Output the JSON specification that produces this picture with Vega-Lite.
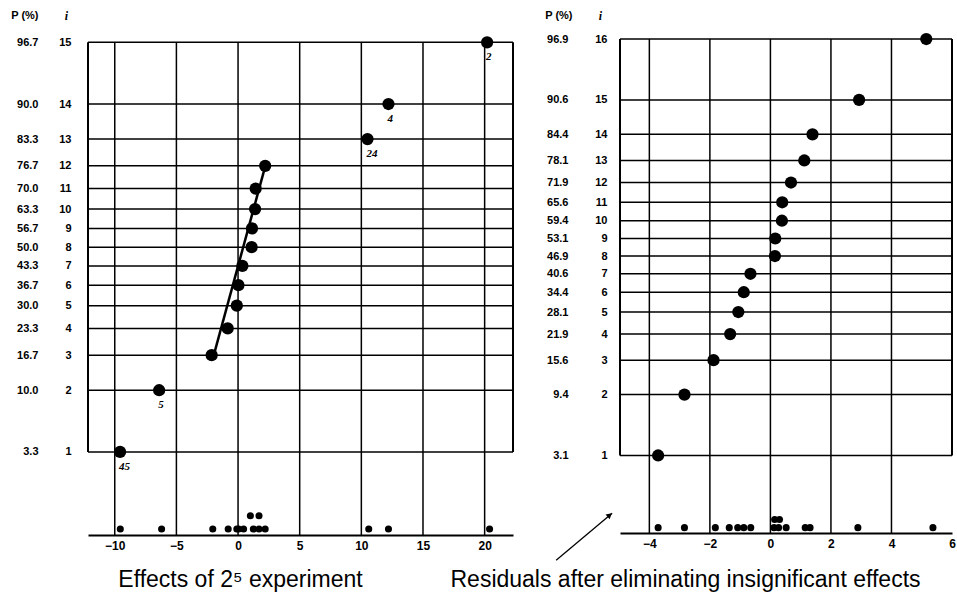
{
  "$schema": "https://vega.github.io/schema/vega-lite/v6.json",
  "background": "white",
  "padding": {"left": 10, "top": 9, "right": 0, "bottom": 0},
  "bounds": "flush",
  "spacing": 107,
  "config": {"view": {"stroke": null}, "font": "Liberation Sans"},
  "datasets": {
    "leftLevels": [
      {"i": 1, "P": 3.3, "z": -1.834}, {"i": 2, "P": 10.0, "z": -1.2816}, {"i": 3, "P": 16.7, "z": -0.9674},
      {"i": 4, "P": 23.3, "z": -0.7279}, {"i": 5, "P": 30.0, "z": -0.5244}, {"i": 6, "P": 36.7, "z": -0.3407},
      {"i": 7, "P": 43.3, "z": -0.1679}, {"i": 8, "P": 50.0, "z": 0}, {"i": 9, "P": 56.7, "z": 0.1679},
      {"i": 10, "P": 63.3, "z": 0.3407}, {"i": 11, "P": 70.0, "z": 0.5244}, {"i": 12, "P": 76.7, "z": 0.7279},
      {"i": 13, "P": 83.3, "z": 0.9674}, {"i": 14, "P": 90.0, "z": 1.2816}, {"i": 15, "P": 96.7, "z": 1.834}
    ],
    "leftTicks": [{"tick": -10}, {"tick": -5}, {"tick": 0}, {"tick": 5}, {"tick": 10}, {"tick": 15}, {"tick": 20}],
    "leftFrame": [{"edge": -12.17}, {"edge": 22.3}],
    "leftPoints": [
      {"i": 1, "z": -1.834, "effect": -9.57, "label": "45"},
      {"i": 2, "z": -1.2816, "effect": -6.4, "label": "5"},
      {"i": 3, "z": -0.9674, "effect": -2.14, "label": ""},
      {"i": 4, "z": -0.7279, "effect": -0.84, "label": ""},
      {"i": 5, "z": -0.5244, "effect": -0.1, "label": ""},
      {"i": 6, "z": -0.3407, "effect": 0.03, "label": ""},
      {"i": 7, "z": -0.1679, "effect": 0.35, "label": ""},
      {"i": 8, "z": 0, "effect": 1.1, "label": ""},
      {"i": 9, "z": 0.1679, "effect": 1.13, "label": ""},
      {"i": 10, "z": 0.3407, "effect": 1.38, "label": ""},
      {"i": 11, "z": 0.5244, "effect": 1.43, "label": ""},
      {"i": 12, "z": 0.7279, "effect": 2.2, "label": ""},
      {"i": 13, "z": 0.9674, "effect": 10.5, "label": "24"},
      {"i": 14, "z": 1.2816, "effect": 12.2, "label": "4"},
      {"i": 15, "z": 1.834, "effect": 20.2, "label": "2"}
    ],
    "leftFit": [{"effect": -2.05, "z": -1.0}, {"effect": 2.22, "z": 0.73}],
    "leftDots": [
      {"effect": -9.55, "y": -2.525}, {"effect": -6.2, "y": -2.525}, {"effect": -2.05, "y": -2.525},
      {"effect": -0.8, "y": -2.525}, {"effect": -0.1, "y": -2.525}, {"effect": 0.05, "y": -2.525},
      {"effect": 0.45, "y": -2.525}, {"effect": 1.24, "y": -2.525}, {"effect": 1.7, "y": -2.525},
      {"effect": 2.2, "y": -2.525}, {"effect": 10.6, "y": -2.525}, {"effect": 12.2, "y": -2.525},
      {"effect": 20.4, "y": -2.525}, {"effect": 1.0, "y": -2.405}, {"effect": 1.7, "y": -2.405}
    ],
    "rightLevels": [
      {"i": 1, "P": 3.1, "z": -1.8627}, {"i": 2, "P": 9.4, "z": -1.318}, {"i": 3, "P": 15.6, "z": -1.0101},
      {"i": 4, "P": 21.9, "z": -0.7764}, {"i": 5, "P": 28.1, "z": -0.5791}, {"i": 6, "P": 34.4, "z": -0.4023},
      {"i": 7, "P": 40.6, "z": -0.2372}, {"i": 8, "P": 46.9, "z": -0.0784}, {"i": 9, "P": 53.1, "z": 0.0784},
      {"i": 10, "P": 59.4, "z": 0.2372}, {"i": 11, "P": 65.6, "z": 0.4023}, {"i": 12, "P": 71.9, "z": 0.5791},
      {"i": 13, "P": 78.1, "z": 0.7764}, {"i": 14, "P": 84.4, "z": 1.0101}, {"i": 15, "P": 90.6, "z": 1.318},
      {"i": 16, "P": 96.9, "z": 1.8627}
    ],
    "rightTicks": [{"tick": -4}, {"tick": -2}, {"tick": 0}, {"tick": 2}, {"tick": 4}],
    "rightFrame": [{"edge": -4.97}, {"edge": 6.0}],
    "rightPoints": [
      {"i": 1, "z": -1.8627, "resid": -3.71}, {"i": 2, "z": -1.318, "resid": -2.84},
      {"i": 3, "z": -1.0101, "resid": -1.88}, {"i": 4, "z": -0.7764, "resid": -1.33},
      {"i": 5, "z": -0.5791, "resid": -1.06}, {"i": 6, "z": -0.4023, "resid": -0.88},
      {"i": 7, "z": -0.2372, "resid": -0.66}, {"i": 8, "z": -0.0784, "resid": 0.15},
      {"i": 9, "z": 0.0784, "resid": 0.16}, {"i": 10, "z": 0.2372, "resid": 0.38},
      {"i": 11, "z": 0.4023, "resid": 0.39}, {"i": 12, "z": 0.5791, "resid": 0.68},
      {"i": 13, "z": 0.7764, "resid": 1.12}, {"i": 14, "z": 1.0101, "resid": 1.39},
      {"i": 15, "z": 1.318, "resid": 2.93}, {"i": 16, "z": 1.8627, "resid": 5.15}
    ],
    "rightDots": [
      {"resid": -3.71, "y": -2.508}, {"resid": -2.84, "y": -2.508}, {"resid": -1.82, "y": -2.508},
      {"resid": -1.36, "y": -2.508}, {"resid": -1.08, "y": -2.508}, {"resid": -0.88, "y": -2.508},
      {"resid": -0.65, "y": -2.508}, {"resid": 0.12, "y": -2.508}, {"resid": 0.27, "y": -2.508},
      {"resid": 0.52, "y": -2.508}, {"resid": 1.15, "y": -2.508}, {"resid": 1.31, "y": -2.508},
      {"resid": 2.89, "y": -2.508}, {"resid": 5.37, "y": -2.508}, {"resid": 0.14, "y": -2.436},
      {"resid": 0.3, "y": -2.436}
    ],
    "arrow": [{"x": -7.08, "y": -2.8, "x2": -5.23, "y2": -2.379}],
    "arrowHead": [{"x": -5.31, "y": -2.396}]
  },
  "hconcat": [
    {
      "width": 425,
      "height": 496,
      "resolve": {"axis": {"x": "independent", "y": "independent"}},
      "layer": [
        {
          "data": {"name": "leftLevels"},
          "mark": {"type": "rule", "color": "black", "strokeWidth": 1.5},
          "encoding": {
            "y": {"field": "z", "type": "quantitative", "scale": {"domain": [-2.578, 1.864], "nice": false, "zero": false},
              "axis": {"orient": "left", "values": [-1.834, -1.2816, -0.9674, -0.7279, -0.5244, -0.3407, -0.1679, 0, 0.1679, 0.3407, 0.5244, 0.7279, 0.9674, 1.2816, 1.834],
                "offset": 48, "domain": false, "ticks": false, "grid": false, "labelPadding": 2, "labelOverlap": false, "labelFlush": false,
                "labelFont": "Liberation Sans", "labelFontWeight": "bold", "labelFontSize": 11, "labelColor": "black",
                "labelExpr": "format(cumulativeNormal(datum.value) * 100, '.1f')",
                "title": "P (%)", "titleAngle": 0, "titleX": -2, "titleY": -23.3, "titleAlign": "right", "titleBaseline": "middle",
                "titleFont": "Liberation Sans", "titleFontWeight": "bold", "titleFontSize": 11, "titleColor": "black"}}
          }
        },
        {
          "data": {"name": "leftTicks"},
          "mark": {"type": "rule", "color": "black", "strokeWidth": 1.5},
          "encoding": {
            "x": {"field": "tick", "type": "quantitative", "scale": {"domain": [-12.17, 22.3], "nice": false, "zero": false},
              "axis": {"orient": "bottom", "values": [-10, -5, 0, 5, 10, 15, 20], "grid": false, "ticks": false, "domain": true, "domainColor": "black", "domainWidth": 2,
                "labelPadding": 5, "labelFlush": false, "labelOverlap": false, "labelFont": "Liberation Sans", "labelFontWeight": "bold", "labelFontSize": 12, "labelColor": "black",
                "title": "Effects of 2⁵ experiment", "titleX": 152, "titleY": 51.5, "titleAlign": "center", "titleBaseline": "alphabetic", "titleAngle": 0,
                "titleFont": "Liberation Sans", "titleFontSize": 23, "titleFontWeight": "normal", "titleColor": "black"}},
            "y": {"datum": -2.578, "type": "quantitative", "axis": null},
            "y2": {"datum": 1.834}
          }
        },
        {
          "data": {"name": "leftFrame"},
          "mark": {"type": "rule", "color": "black", "strokeWidth": 2},
          "encoding": {
            "x": {"field": "edge", "type": "quantitative", "axis": null},
            "y": {"datum": -1.834, "type": "quantitative", "axis": null},
            "y2": {"datum": 1.834}
          }
        },
        {
          "data": {"name": "leftFit"},
          "mark": {"type": "line", "color": "black", "strokeWidth": 2.5},
          "encoding": {
            "x": {"field": "effect", "type": "quantitative", "axis": null},
            "y": {"field": "z", "type": "quantitative", "axis": null}
          }
        },
        {
          "data": {"name": "leftPoints"},
          "mark": {"type": "circle", "color": "black", "size": 150, "opacity": 1},
          "encoding": {
            "x": {"field": "effect", "type": "quantitative", "axis": null},
            "y": {"field": "z", "type": "quantitative",
              "axis": {"orient": "left", "values": [-1.834, -1.2816, -0.9674, -0.7279, -0.5244, -0.3407, -0.1679, 0, 0.1679, 0.3407, 0.5244, 0.7279, 0.9674, 1.2816, 1.834],
                "offset": 15, "domain": false, "ticks": false, "grid": false, "labelPadding": 2, "labelOverlap": false, "labelFlush": false,
                "labelFont": "Liberation Sans", "labelFontWeight": "bold", "labelFontSize": 11, "labelColor": "black",
                "labelExpr": "format(round(cumulativeNormal(datum.value) * 15 + 0.5), 'd')",
                "title": "i", "titleAngle": 0, "titleX": -7, "titleY": -23.3, "titleAlign": "center", "titleBaseline": "middle",
                "titleFont": "Liberation Serif", "titleFontStyle": "italic", "titleFontWeight": "bold", "titleFontSize": 12, "titleColor": "black"}}
          }
        },
        {
          "data": {"name": "leftPoints"},
          "mark": {"type": "text", "color": "black", "align": "left", "baseline": "middle", "dx": -1, "dy": 15, "font": "Liberation Serif", "fontStyle": "italic", "fontWeight": "bold", "fontSize": 11},
          "encoding": {
            "x": {"field": "effect", "type": "quantitative", "axis": null},
            "y": {"field": "z", "type": "quantitative", "axis": null},
            "text": {"field": "label"}
          }
        },
        {
          "data": {"name": "leftDots"},
          "mark": {"type": "circle", "color": "black", "size": 50, "opacity": 1},
          "encoding": {
            "x": {"field": "effect", "type": "quantitative", "axis": null},
            "y": {"field": "y", "type": "quantitative", "axis": null}
          }
        }
      ]
    },
    {
      "width": 332,
      "height": 494,
      "resolve": {"axis": {"x": "independent", "y": "independent"}},
      "layer": [
        {
          "data": {"name": "rightLevels"},
          "mark": {"type": "rule", "color": "black", "strokeWidth": 1.5},
          "encoding": {
            "y": {"field": "z", "type": "quantitative", "scale": {"domain": [-2.556, 1.863], "nice": false, "zero": false},
              "axis": {"orient": "left", "values": [-1.8627, -1.318, -1.0101, -0.7764, -0.5791, -0.4023, -0.2372, -0.0784, 0.0784, 0.2372, 0.4023, 0.5791, 0.7764, 1.0101, 1.318, 1.8627],
                "offset": 50, "domain": false, "ticks": false, "grid": false, "labelPadding": 2, "labelOverlap": false, "labelFlush": false,
                "labelFont": "Liberation Sans", "labelFontWeight": "bold", "labelFontSize": 11, "labelColor": "black",
                "labelExpr": "format(cumulativeNormal(datum.value) * 100, '.1f')",
                "title": "P (%)", "titleAngle": 0, "titleX": 2, "titleY": -23.3, "titleAlign": "right", "titleBaseline": "middle",
                "titleFont": "Liberation Sans", "titleFontWeight": "bold", "titleFontSize": 11, "titleColor": "black"}}
          }
        },
        {
          "data": {"name": "rightTicks"},
          "mark": {"type": "rule", "color": "black", "strokeWidth": 1.5},
          "encoding": {
            "x": {"field": "tick", "type": "quantitative", "scale": {"domain": [-4.97, 6.0], "nice": false, "zero": false},
              "axis": {"orient": "bottom", "values": [-4, -2, 0, 2, 4, 6], "grid": false, "ticks": false, "domain": true, "domainColor": "black", "domainWidth": 2,
                "labelPadding": 5, "labelFlush": false, "labelOverlap": false, "labelFont": "Liberation Sans", "labelFontWeight": "bold", "labelFontSize": 12, "labelColor": "black",
                "title": "Residuals after eliminating insignificant effects", "titleX": 65, "titleY": 53.7, "titleAlign": "center", "titleBaseline": "alphabetic", "titleAngle": 0,
                "titleFont": "Liberation Sans", "titleFontSize": 23, "titleFontWeight": "normal", "titleColor": "black"}},
            "y": {"datum": -2.556, "type": "quantitative", "axis": null},
            "y2": {"datum": 1.863}
          }
        },
        {
          "data": {"name": "rightFrame"},
          "mark": {"type": "rule", "color": "black", "strokeWidth": 2},
          "encoding": {
            "x": {"field": "edge", "type": "quantitative", "axis": null},
            "y": {"datum": -1.8627, "type": "quantitative", "axis": null},
            "y2": {"datum": 1.8627}
          }
        },
        {
          "data": {"name": "rightPoints"},
          "mark": {"type": "circle", "color": "black", "size": 150, "opacity": 1},
          "encoding": {
            "x": {"field": "resid", "type": "quantitative", "axis": null},
            "y": {"field": "z", "type": "quantitative",
              "axis": {"orient": "left", "values": [-1.8627, -1.318, -1.0101, -0.7764, -0.5791, -0.4023, -0.2372, -0.0784, 0.0784, 0.2372, 0.4023, 0.5791, 0.7764, 1.0101, 1.318, 1.8627],
                "offset": 11, "domain": false, "ticks": false, "grid": false, "labelPadding": 2, "labelOverlap": false, "labelFlush": false,
                "labelFont": "Liberation Sans", "labelFontWeight": "bold", "labelFontSize": 11, "labelColor": "black",
                "labelExpr": "format(round(cumulativeNormal(datum.value) * 16 + 0.5), 'd')",
                "title": "i", "titleAngle": 0, "titleX": -9, "titleY": -23.3, "titleAlign": "center", "titleBaseline": "middle",
                "titleFont": "Liberation Serif", "titleFontStyle": "italic", "titleFontWeight": "bold", "titleFontSize": 12, "titleColor": "black"}}
          }
        },
        {
          "data": {"name": "rightDots"},
          "mark": {"type": "circle", "color": "black", "size": 50, "opacity": 1},
          "encoding": {
            "x": {"field": "resid", "type": "quantitative", "axis": null},
            "y": {"field": "y", "type": "quantitative", "axis": null}
          }
        },
        {
          "data": {"name": "arrow"},
          "mark": {"type": "rule", "color": "black", "strokeWidth": 1.3},
          "encoding": {
            "x": {"field": "x", "type": "quantitative", "axis": null},
            "y": {"field": "y", "type": "quantitative", "axis": null},
            "x2": {"field": "x2"},
            "y2": {"field": "y2"}
          }
        },
        {
          "data": {"name": "arrowHead"},
          "mark": {"type": "point", "shape": "triangle-up", "filled": true, "color": "black", "size": 40, "angle": 50, "opacity": 1},
          "encoding": {
            "x": {"field": "x", "type": "quantitative", "axis": null},
            "y": {"field": "y", "type": "quantitative", "axis": null}
          }
        }
      ]
    }
  ]
}
